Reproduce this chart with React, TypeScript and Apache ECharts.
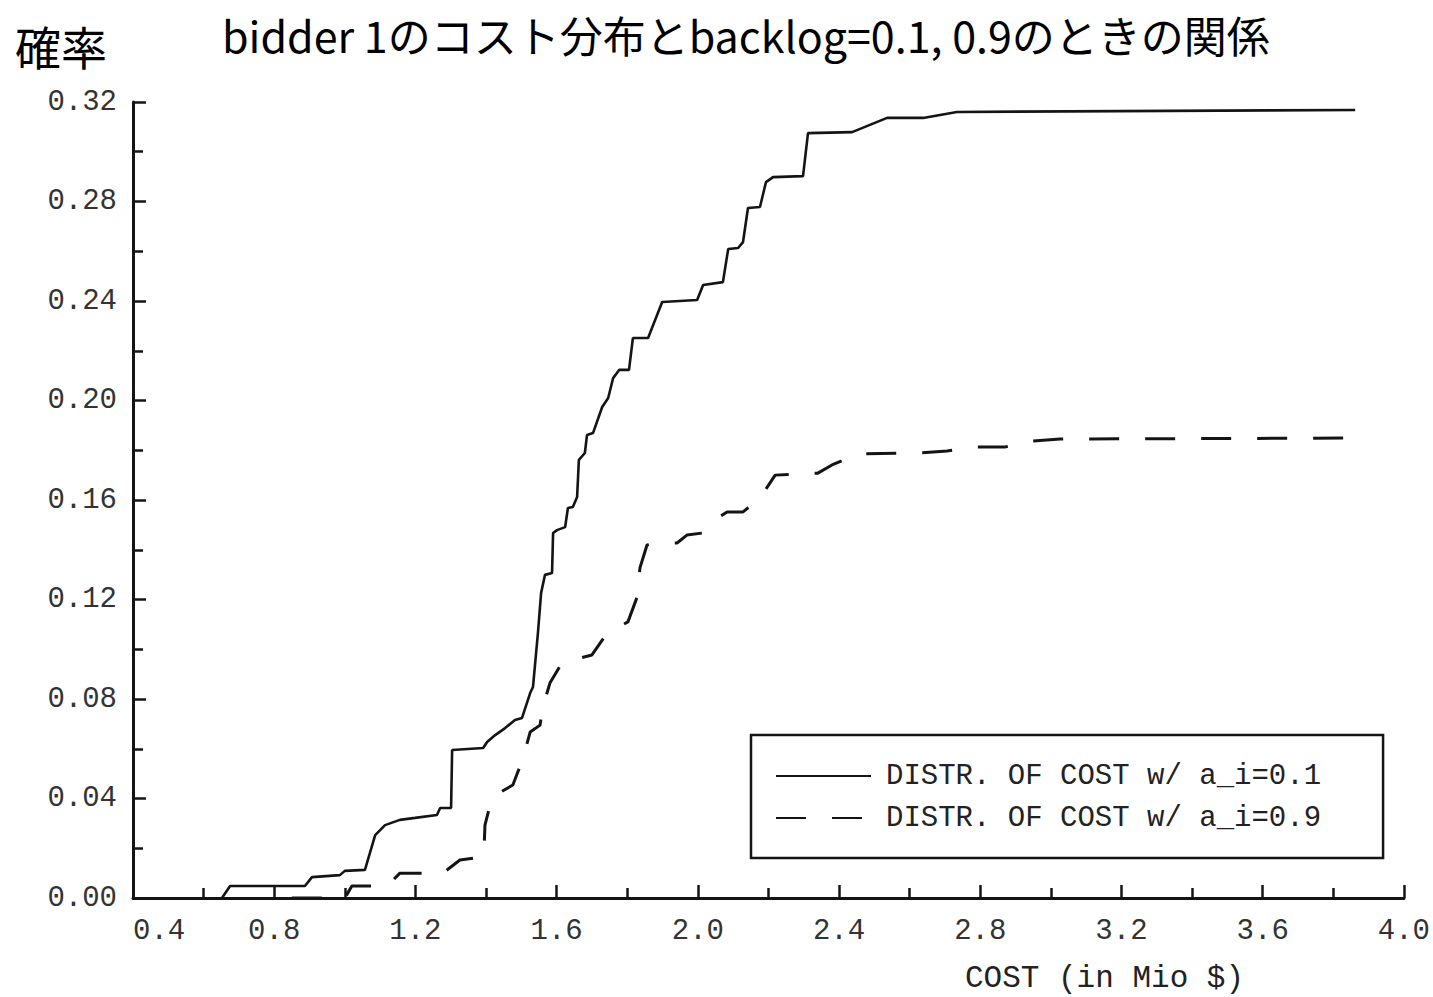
import React, { useEffect, useRef } from "react";
import * as echarts from "echarts";

const titleText = "bidder 1のコスト分布とbacklog=0.1, 0.9のときの関係";
const yAxisTitle = "確率";
const xAxisTitle = "COST (in Mio $)";
const seriesNames = ["DISTR. OF COST w/ a_i=0.1", "DISTR. OF COST w/ a_i=0.9"];

// Series A (backlog 0.1, solid)
const costA = [0.652, 0.675, 0.887, 0.907, 0.986, 1.0, 1.057, 1.086, 1.114, 1.156, 1.199, 1.261, 1.27, 1.301, 1.304, 1.392, 1.403, 1.426, 1.454, 1.482, 1.502, 1.525, 1.533, 1.547, 1.556, 1.567, 1.587, 1.59, 1.601, 1.624, 1.632, 1.646, 1.658, 1.663, 1.68, 1.686, 1.703, 1.729, 1.746, 1.76, 1.777, 1.805, 1.816, 1.859, 1.899, 1.998, 2.015, 2.071, 2.086, 2.114, 2.128, 2.142, 2.176, 2.193, 2.213, 2.298, 2.312, 2.437, 2.536, 2.638, 2.734, 3.862];
const probA = [0, 0.0048, 0.0048, 0.0084, 0.0092, 0.0109, 0.0113, 0.0253, 0.0293, 0.0314, 0.0322, 0.0334, 0.0362, 0.0362, 0.0595, 0.0603, 0.0627, 0.0655, 0.0683, 0.0716, 0.0724, 0.0824, 0.0848, 0.1065, 0.1226, 0.1299, 0.1307, 0.1467, 0.1479, 0.1491, 0.1568, 0.1572, 0.1612, 0.1761, 0.1789, 0.1861, 0.1869, 0.1974, 0.201, 0.209, 0.2123, 0.2123, 0.2251, 0.2251, 0.2396, 0.2404, 0.2464, 0.2476, 0.2609, 0.2613, 0.2637, 0.2774, 0.2778, 0.2878, 0.2898, 0.2902, 0.3075, 0.3079, 0.3136, 0.3136, 0.316, 0.3168];

// Series B (backlog 0.9, dashed)
const costB = [0.85, 1.0, 1.02, 1.12, 1.156, 1.278, 1.326, 1.389, 1.394, 1.397, 1.417, 1.476, 1.505, 1.525, 1.553, 1.561, 1.581, 1.615, 1.7, 1.743, 1.802, 1.828, 1.836, 1.856, 1.87, 1.941, 1.969, 2.012, 2.057, 2.083, 2.128, 2.176, 2.219, 2.34, 2.38, 2.454, 2.621, 2.706, 2.78, 2.87, 2.947, 3.026, 3.848];
const probB = [0, 0, 0.0048, 0.0048, 0.01, 0.01, 0.0153, 0.0165, 0.0181, 0.0293, 0.0406, 0.0454, 0.0563, 0.0667, 0.0695, 0.0768, 0.0864, 0.0945, 0.0977, 0.1065, 0.111, 0.121, 0.1327, 0.1419, 0.1423, 0.1427, 0.1459, 0.1467, 0.1528, 0.1552, 0.1552, 0.1608, 0.17, 0.1708, 0.1741, 0.1785, 0.1789, 0.1797, 0.1813, 0.1813, 0.1837, 0.1845, 0.1849];

const xMin = 0.4;
const xMax = 4.0;
const xStep = 0.4;
const yMin = 0;
const yMax = 0.32;
const yStep = 0.04;

const MONO = "'Liberation Mono', 'DejaVu Sans Mono', monospace";
const CJK = "'Noto Sans CJK JP', 'Noto Sans', sans-serif";
const INK = "#141414";

export default function App() {
  const ref = useRef<HTMLDivElement>(null);
  useEffect(() => {
    if (!ref.current) return;
    const chart = echarts.init(ref.current, null, { renderer: "svg" });
    const zip = (xs: number[], ys: number[]) => xs.map((x, i) => [x, ys[i]]);
    const axisCommon = {
      axisLine: { show: true, lineStyle: { color: INK, width: 3 } },
      axisTick: { show: true, inside: true, length: 13, lineStyle: { color: INK, width: 2.5 } },
      minorTick: { show: true, splitNumber: 2, length: 10, lineStyle: { color: INK, width: 2.5 } },
      splitLine: { show: false },
    };
    chart.setOption({
      animation: false,
      backgroundColor: "#ffffff",
      title: [
        {
          text: titleText,
          left: 222,
          top: 12,
          padding: 0,
          textStyle: { fontFamily: CJK, fontSize: 43, fontWeight: "normal", color: "#000", lineHeight: 44 },
        },
        {
          text: yAxisTitle,
          left: 15,
          top: 22,
          padding: 0,
          textStyle: { fontFamily: CJK, fontSize: 46, fontWeight: "normal", color: "#000", lineHeight: 46 },
        },
        {
          text: xAxisTitle,
          left: 965,
          top: 962,
          padding: 0,
          textStyle: { fontFamily: MONO, fontSize: 31, fontWeight: "normal", color: "#222", lineHeight: 32 },
        },
      ],
      grid: { left: 133, right: 29, top: 102, bottom: 99, containLabel: false },
      legend: {
        orient: "vertical",
        left: 751,
        top: 735,
        padding: [26, 62, 25, 24],
        itemWidth: 95,
        itemHeight: 20,
        itemGap: 12,
        selectedMode: false,
        borderColor: INK,
        borderWidth: 2.5,
        backgroundColor: "#fff",
        itemStyle: { color: "rgba(0,0,0,0)", borderColor: "rgba(0,0,0,0)", borderWidth: 0, opacity: 0 },
        textStyle: { fontFamily: MONO, fontSize: 29, color: "#222", lineHeight: 30, padding: [0, 0, 0, 10] },
        data: seriesNames,
      },
      xAxis: {
        type: "value",
        min: xMin,
        max: xMax,
        interval: xStep,
        ...axisCommon,
        axisLabel: {
          margin: 19,
          fontFamily: MONO,
          fontSize: 29,
          color: "#333",
          alignMinLabel: "left",
          formatter: (v: number) => v.toFixed(1),
        },
      },
      yAxis: {
        type: "value",
        min: yMin,
        max: yMax,
        interval: yStep,
        ...axisCommon,
        axisLabel: {
          margin: 16,
          fontFamily: MONO,
          fontSize: 29,
          color: "#333",
          formatter: (v: number) => v.toFixed(2),
        },
      },
      series: [
        {
          name: seriesNames[0],
          type: "line",
          data: zip(costA, probA),
          symbol: "none",
          lineStyle: { color: INK, width: 2.6, type: "solid" },
          itemStyle: { color: INK },
        },
        {
          name: seriesNames[1],
          type: "line",
          data: zip(costB, probB),
          symbol: "none",
          lineStyle: { color: INK, width: 3, type: [30, 26] },
          itemStyle: { color: INK },
        },
      ],
    });
    return () => chart.dispose();
  }, []);
  return (
    <div
      ref={ref}
      style={{ position: "absolute", left: 0, top: 0, width: 1433, height: 997, background: "#fff" }}
    />
  );
}
